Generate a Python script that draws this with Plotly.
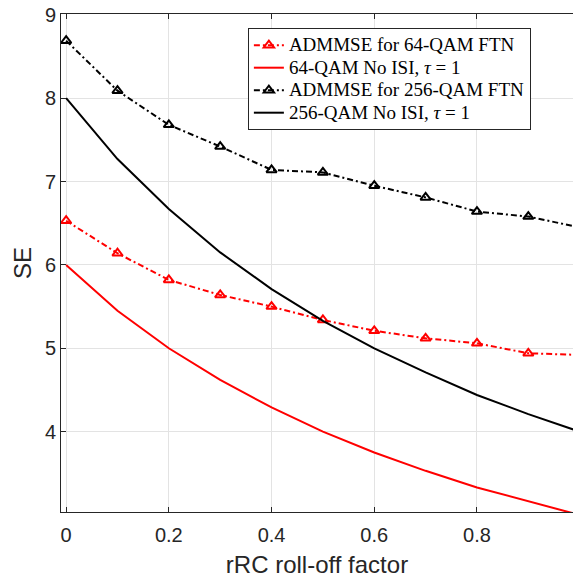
import plotly.graph_objects as go

rolloff = [0.0, 0.1, 0.2, 0.3, 0.4, 0.5, 0.6, 0.7, 0.8, 0.9, 1.0]
admmse_64 = [6.53, 6.14, 5.82, 5.64, 5.50, 5.34, 5.21, 5.12, 5.06, 4.94, 4.92]
noisi_64 = [6.00, 5.45, 5.00, 4.62, 4.29, 4.00, 3.75, 3.53, 3.33, 3.16, 3.00]
admmse_256 = [8.69, 8.09, 7.68, 7.42, 7.14, 7.11, 6.95, 6.81, 6.64, 6.58, 6.45]
noisi_256 = [8.00, 7.27, 6.67, 6.15, 5.71, 5.33, 5.00, 4.71, 4.44, 4.21, 4.00]

names = ["ADMMSE for 64-QAM FTN", "64-QAM No ISI, <i>\u03c4</i> = 1",
         "ADMMSE for 256-QAM FTN", "256-QAM No ISI, <i>\u03c4</i> = 1"]
xticks = [0, 0.2, 0.4, 0.6, 0.8]
yticks = [4, 5, 6, 7, 8, 9]


def big(s):
    return '<span style="font-size:19px">' + s + '</span>'


dashdot = "6px,3px,2px,3px"
fig = go.Figure()
fig.add_trace(go.Scatter(x=rolloff, y=admmse_64, name=big(names[0]), mode="lines+markers",
                         line=dict(color="#ff0000", width=2, dash=dashdot),
                         marker=dict(symbol="triangle-up-open", size=9, color="#ff0000",
                                     line=dict(width=2, color="#ff0000"))))
fig.add_trace(go.Scatter(x=rolloff, y=noisi_64, name=big(names[1]), mode="lines",
                         line=dict(color="#ff0000", width=2)))
fig.add_trace(go.Scatter(x=rolloff, y=admmse_256, name=big(names[2]), mode="lines+markers",
                         line=dict(color="#000000", width=2, dash=dashdot),
                         marker=dict(symbol="triangle-up-open", size=9, color="#000000",
                                     line=dict(width=2, color="#000000"))))
fig.add_trace(go.Scatter(x=rolloff, y=noisi_256, name=big(names[3]), mode="lines",
                         line=dict(color="#000000", width=2)))

axis_common = dict(showgrid=True, gridcolor="#e3e3e3", gridwidth=1, zeroline=False,
                   ticks="inside", ticklen=5, tickcolor="#262626", tickwidth=1,
                   showline=True, linecolor="#262626", linewidth=1,
                   tickfont=dict(family="Liberation Sans, Arial", size=20, color="#262626"))
fig.update_layout(
    width=573, height=578,
    margin=dict(l=61, r=0, t=14, b=66),
    plot_bgcolor="white", paper_bgcolor="white",
    showlegend=True,
    legend=dict(x=0.365, y=0.972, xanchor="left", yanchor="top",
                bgcolor="white", bordercolor="#262626", borderwidth=1,
                font=dict(family="Liberation Serif, Times New Roman", size=15, color="#000000"),
                tracegroupgap=0, itemwidth=30),
    xaxis=dict(range=[-0.01, 0.987], tickvals=xticks, ticktext=[str(t) if t else "0" for t in xticks],
               mirror="ticks", ticklabelstandoff=5,
               title=dict(text="rRC roll-off factor", standoff=12,
                          font=dict(family="Liberation Sans, Arial", size=24, color="#262626")),
               **axis_common),
    yaxis=dict(range=[3.036, 9.01], tickvals=yticks,
               title=dict(text="SE", standoff=6,
                          font=dict(family="Liberation Sans, Arial", size=24, color="#262626")),
               **axis_common),
)
fig.write_html("out.html")
